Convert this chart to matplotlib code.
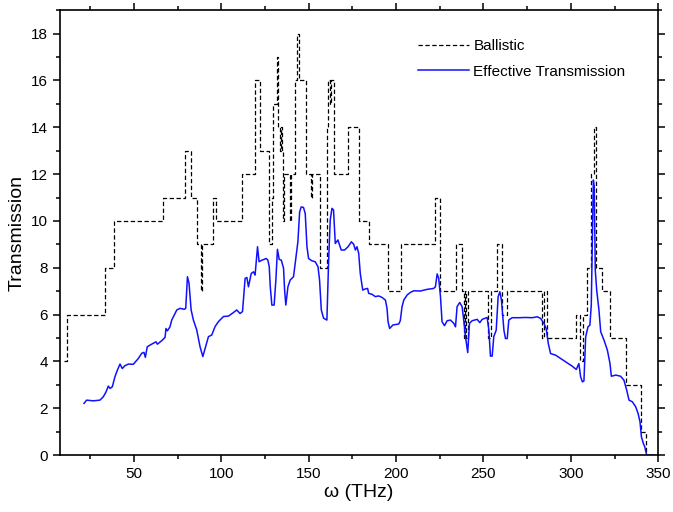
import numpy as np
import matplotlib
matplotlib.use("Agg")
import matplotlib.pyplot as plt
from matplotlib.ticker import MultipleLocator

plt.rcParams['font.family'] = ['Liberation Sans', 'DejaVu Sans']

# ballistic transmission: step starts (THz) and channel counts
ball_x = [10.0, 11.4, 33.4, 38.7, 66.8, 79.4, 82.7, 86.0, 88.6, 89.2, 95.0, 96.8,
          112.0, 119.4, 122.0, 127.5, 128.8, 129.8, 131.8, 132.6, 133.4, 134.0,
          134.6, 135.4, 135.8, 139.2, 139.6, 141.9, 143.4, 144.2, 148.5, 151.2,
          151.6, 156.6, 160.4, 161.0, 162.0, 162.6, 164.6, 172.5, 179.0, 184.3,
          195.2, 202.8, 222.5, 225.3, 234.5, 237.9, 238.9, 239.4, 240.2, 241.0,
          252.6, 254.2, 257.8, 260.4, 263.6, 283.5, 284.5, 286.5, 303.0, 305.0,
          307.2, 309.2, 311.5, 313.0, 314.2, 318.0, 322.4, 331.8, 340.0, 343.0,
          345.0]
ball_y = [4, 6, 8, 10, 11, 13, 11, 9, 7, 9, 11, 10,
          12, 16, 13, 9, 11, 15, 17, 14, 13, 14,
          13, 10, 12, 10, 12, 16, 18, 16, 12, 11,
          12, 8, 14, 16, 15, 16, 12, 14, 10, 9,
          7, 9, 11, 7, 9, 7, 5, 7, 5, 7,
          5, 7, 9, 6, 7, 5, 7, 5, 6, 4,
          6, 8, 12, 14, 8, 7, 5, 3, 1, 0,
          0]

# effective transmission
eff_x = [21.4, 22.9, 26.7, 30.5, 32.4, 34.0, 35.3, 36.3, 37.6, 39.1, 40.5, 42.0,
         43.3, 44.8, 46.8, 49.6, 52.5, 54.4, 55.7, 56.5, 57.6, 60.1, 62.6, 63.4,
         65.9, 67.8, 68.3, 69.1, 70.6, 71.6, 74.5, 76.4, 78.8, 79.6, 80.6, 81.5,
         82.7, 84.0, 85.9, 87.8, 89.4, 90.7, 92.6, 94.5, 96.4, 98.3, 101.2, 104.1,
         106.9, 108.8, 110.7, 112.1, 113.6, 114.6, 115.5, 117.1, 118.4, 119.3,
         120.7, 121.6, 123.2, 124.5, 125.6, 126.6, 127.4, 128.0, 128.9, 130.2,
         131.2, 132.1, 133.1, 134.3, 135.6, 136.2, 136.9, 138.1, 139.4, 141.3,
         142.7, 143.8, 144.8, 145.7, 147.0, 148.0, 149.0, 149.9, 151.8, 153.7,
         155.3, 156.2, 157.2, 158.5, 160.4, 161.4, 162.3, 163.3, 164.2, 165.2,
         166.7, 168.6, 170.5, 172.5, 174.4, 175.7, 176.7, 177.6, 178.6, 179.5,
         180.9, 182.4, 183.7, 184.3, 186.2, 188.1, 190.0, 191.9, 193.9, 194.8,
         195.4, 196.3, 198.2, 201.5, 202.4, 203.4, 204.4, 206.3, 208.2, 210.1,
         213.9, 217.7, 221.5, 222.5, 223.5, 224.4, 225.4, 226.3, 227.7, 229.2,
         231.1, 233.0, 234.0, 234.9, 236.4, 237.8, 238.7, 239.7, 241.0, 242.0,
         243.5, 246.4, 247.9, 249.3, 252.1, 253.1, 254.0, 255.0, 255.9, 257.3,
         258.4, 259.4, 260.3, 261.7, 262.6, 263.6, 264.5, 266.4, 270.3, 274.1,
         277.9, 280.8, 282.7, 284.6, 285.9, 287.1, 288.4, 291.3, 294.1, 297.0,
         300.8, 303.1, 304.6, 305.6, 306.6, 307.5, 308.5, 309.8, 310.9, 311.7,
         312.3, 312.9, 313.4, 314.0, 314.8, 316.1, 317.1, 319.0, 320.9, 322.4,
         323.2, 325.7, 328.5, 330.4, 332.0, 333.3, 335.2, 337.1, 338.5, 339.6,
         340.4, 341.5, 342.3, 343.4, 347.6]
eff_y = [2.21, 2.35, 2.32, 2.35, 2.49, 2.70, 2.95, 2.85, 2.92, 3.35, 3.63, 3.89,
         3.70, 3.82, 3.89, 3.88, 4.13, 4.35, 4.39, 4.18, 4.63, 4.74, 4.84, 4.74,
         4.89, 5.03, 5.41, 5.31, 5.48, 5.77, 6.20, 6.27, 6.23, 6.27, 7.62, 7.34,
         6.20, 5.77, 5.35, 4.63, 4.21, 4.56, 5.06, 5.13, 5.49, 5.70, 5.92, 5.94,
         6.09, 6.20, 6.05, 6.13, 7.55, 7.59, 7.19, 7.76, 7.83, 7.69,
         8.90, 8.26, 8.33, 8.36, 8.40, 8.33, 8.05, 7.19, 6.41, 6.41,
         7.48, 8.79, 8.36, 8.33, 7.98, 7.05, 6.41, 7.19, 7.48, 7.62,
         8.47, 9.11, 10.39, 10.60, 10.58, 10.32, 8.90, 8.40, 8.30, 8.26,
         8.05, 7.48, 6.20, 5.85, 5.77, 8.33, 10.04, 10.54, 10.47, 9.04,
         9.19, 8.76, 8.76, 8.90, 9.11, 9.01, 8.76, 8.90, 8.62, 7.76,
         7.05, 7.10, 7.12, 6.91, 6.87, 6.77, 6.80, 6.74, 6.62, 6.27,
         5.70, 5.41, 5.56, 5.60, 5.74, 6.34, 6.62, 6.84, 6.95, 7.02,
         7.01, 7.08, 7.12, 7.19, 7.74, 7.55, 6.77, 5.70, 5.53, 5.74,
         5.77, 5.63, 5.48, 6.34, 6.52, 6.34, 5.77, 5.06, 4.38, 5.63,
         5.74, 5.80, 5.66, 5.80, 5.88, 5.34, 4.23, 4.23, 5.06, 5.34,
         6.77, 6.98, 6.62, 5.34, 4.98, 4.98, 5.77, 5.87, 5.87, 5.88,
         5.87, 5.91, 5.84, 5.63, 5.41, 4.77, 4.34, 4.27, 4.13, 3.99,
         3.80, 3.66, 3.91, 3.35, 3.13, 3.17, 5.05, 5.48, 5.55, 6.40,
         9.04, 11.75, 11.46, 7.90, 7.05, 6.19, 5.27, 4.91, 4.49, 3.92,
         3.37, 3.42, 3.37, 3.20, 2.77, 2.35, 2.28, 2.07, 1.78, 1.42,
         0.78, 0.50, 0.36, 0.00, 0.00]

fig = plt.figure(figsize=(6.73, 5.12), dpi=100)
ax = fig.add_axes([0.089, 0.111, 0.889, 0.869])

ax.plot(ball_x, ball_y, drawstyle='steps-post', color='black', lw=0.9,
        linestyle=(0, (3.5, 2)), label='Ballistic')
ax.plot(eff_x, eff_y, color='#1010ff', lw=1.1, label='Effective Transmission')

ax.set_xlim(7.6, 350)
ax.set_ylim(0, 19)
ax.xaxis.set_major_locator(MultipleLocator(50))
ax.xaxis.set_minor_locator(MultipleLocator(25))
ax.yaxis.set_major_locator(MultipleLocator(2))
ax.yaxis.set_minor_locator(MultipleLocator(1))
ax.tick_params(which='both', direction='out', top=True, right=True,
               labelsize=11, width=1.1)
ax.tick_params(which='major', length=5)
ax.tick_params(which='minor', length=3)
for s in ax.spines.values():
    s.set_linewidth(1.2)

ax.set_xlabel('ω (THz)', fontsize=14, labelpad=2)
ax.set_ylabel('Transmission', fontsize=14, labelpad=4)

ax.legend(loc='upper left', bbox_to_anchor=(0.599, 0.935), frameon=False,
          fontsize=11, handlelength=3.3, handletextpad=0.3, labelspacing=0.75,
          borderpad=0, borderaxespad=0)

fig.savefig('out.png', dpi=100)
